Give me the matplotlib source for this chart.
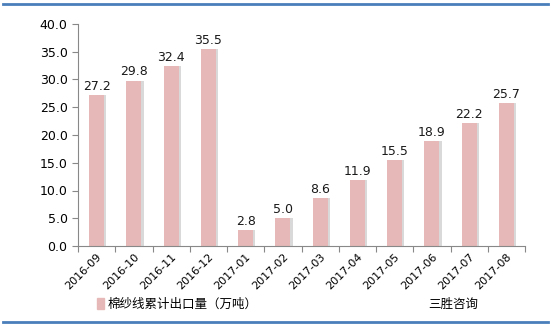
import matplotlib
matplotlib.use("Agg")
import matplotlib.pyplot as plt
from matplotlib.patches import Rectangle
from matplotlib.lines import Line2D

plt.rcParams['font.family'] = ['Noto Sans CJK SC', 'DejaVu Sans']

categories = ["2016-09", "2016-10", "2016-11", "2016-12", "2017-01", "2017-02",
              "2017-03", "2017-04", "2017-05", "2017-06", "2017-07", "2017-08"]
values = [27.2, 29.8, 32.4, 35.5, 2.8, 5.0, 8.6, 11.9, 15.5, 18.9, 22.2, 25.7]
yticks = [0.0, 5.0, 10.0, 15.0, 20.0, 25.0, 30.0, 35.0, 40.0]
series_name = "棉纱线累计出口量（万吨）"
source = "三胜咨询"

W, H = 551, 326
fig = plt.figure(figsize=(W / 100, H / 100), dpi=100)
fig.patch.set_facecolor("white")

ax = fig.add_axes([78 / W, 1 - 246 / H, (525 - 78) / W, (246 - 24) / H])
x = list(range(len(categories)))
bw = 0.4
# shadow
ax.bar([i + 0.06 for i in x], values, width=bw, color="#d9d9d9", zorder=1)
ax.bar(x, values, width=bw, color="#e6b9b8", zorder=2)
for i, v in zip(x, values):
    ax.text(i, v + 0.4, f"{v:.1f}", ha="center", va="bottom", fontsize=9,
            color="#1a1a1a", family="DejaVu Sans")

ax.set_xlim(-0.5, len(categories) - 0.5)
ax.set_ylim(0, 40)
ax.set_yticks(yticks)
ax.set_yticklabels([f"{t:.1f}" for t in yticks], fontsize=9, family="DejaVu Sans")
ax.set_xticks([i - 0.5 for i in range(len(categories) + 1)], minor=False)
ax.set_xticklabels([""] * (len(categories) + 1))
ax.set_xticks(x, minor=True)
ax.set_xticklabels(categories, minor=True, rotation=45, ha="right",
                   rotation_mode="anchor", fontsize=8, family="DejaVu Sans")
ax.tick_params(axis="x", which="minor", length=0, pad=4)
ax.tick_params(axis="x", which="major", length=4, color="#888888", direction="out")
ax.tick_params(axis="y", length=4, color="#888888", direction="out")
for s in ["top", "right"]:
    ax.spines[s].set_visible(False)
for s in ["left", "bottom"]:
    ax.spines[s].set_color("#888888")

# legend
fig.patches.append(Rectangle((97 / W, 1 - 309 / H), 7 / W, 11 / H,
                             transform=fig.transFigure, color="#e6b9b8"))
fig.text(108 / W, 1 - 304 / H, series_name, fontsize=9, va="center", ha="left")
fig.text(428 / W, 1 - 304 / H, source, fontsize=9, va="center", ha="left")

# blue rules
fig.add_artist(Line2D([3 / W, 548 / W], [1 - 3.5 / H, 1 - 3.5 / H],
                      transform=fig.transFigure, color="#4a7ebb", lw=2))
fig.add_artist(Line2D([3 / W, 548 / W], [1 - 322 / H, 1 - 322 / H],
                      transform=fig.transFigure, color="#4a7ebb", lw=2))

fig.savefig("out.png", dpi=100, facecolor="white")
